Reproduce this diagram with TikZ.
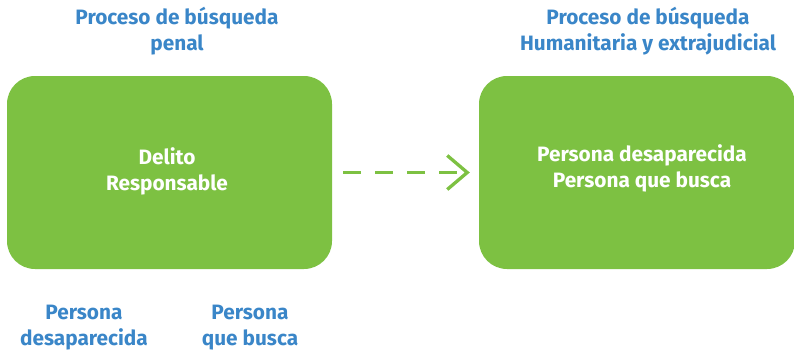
\documentclass[tikz,border=0pt]{standalone}
\usepackage{fontspec}
\setmainfont{Fira Sans}
\usetikzlibrary{arrows.meta}
\definecolor{boxgreen}{HTML}{7DC142}
\definecolor{titleblue}{HTML}{3A86C8}
\tikzset{
  greenbox/.style={fill=boxgreen, draw=none, rounded corners=28pt, minimum width=#1, minimum height=193pt, inner sep=0pt},
  boxtext/.style={text=white, font=\bfseries\fontsize{20.8pt}{25.5pt}\selectfont, align=center, anchor=base},
  bluetext/.style={text=titleblue, font=\bfseries\fontsize{20.8pt}{25.5pt}\selectfont, align=center, anchor=base},
  flowarrow/.style={draw=boxgreen, line width=3.3pt, dash pattern=on 18pt off 14pt, -{Straight Barb[length=20pt,width=34pt,line width=3.3pt]}}
}
\begin{document}
\begin{tikzpicture}[x=1pt,y=-1pt]
\useasboundingbox (0,0) rectangle (794,351);
\node[greenbox=325pt] (left) at (169.5,172.5) {};
\node[greenbox=316pt] (right) at (637,172.5) {};
\node[boxtext] (lt) at (167,190) {Delito\\Responsable};
\node[boxtext] (rt) at (642,187) {Persona desaparecida\\Persona que busca};
\node[bluetext] (t1) at (177,50) {Proceso de búsqueda\\penal};
\node[bluetext] (t2) at (648,50) {Proceso de búsqueda\\Humanitaria y extrajudicial};
\node[bluetext] (b1) at (84,345) {Persona\\desaparecida};
\node[bluetext] (b2) at (250,345) {Persona\\que busca};
\draw[flowarrow, shorten <=11pt, shorten >=9pt] (left.east) -- (right.west);
\end{tikzpicture}
\end{document}
